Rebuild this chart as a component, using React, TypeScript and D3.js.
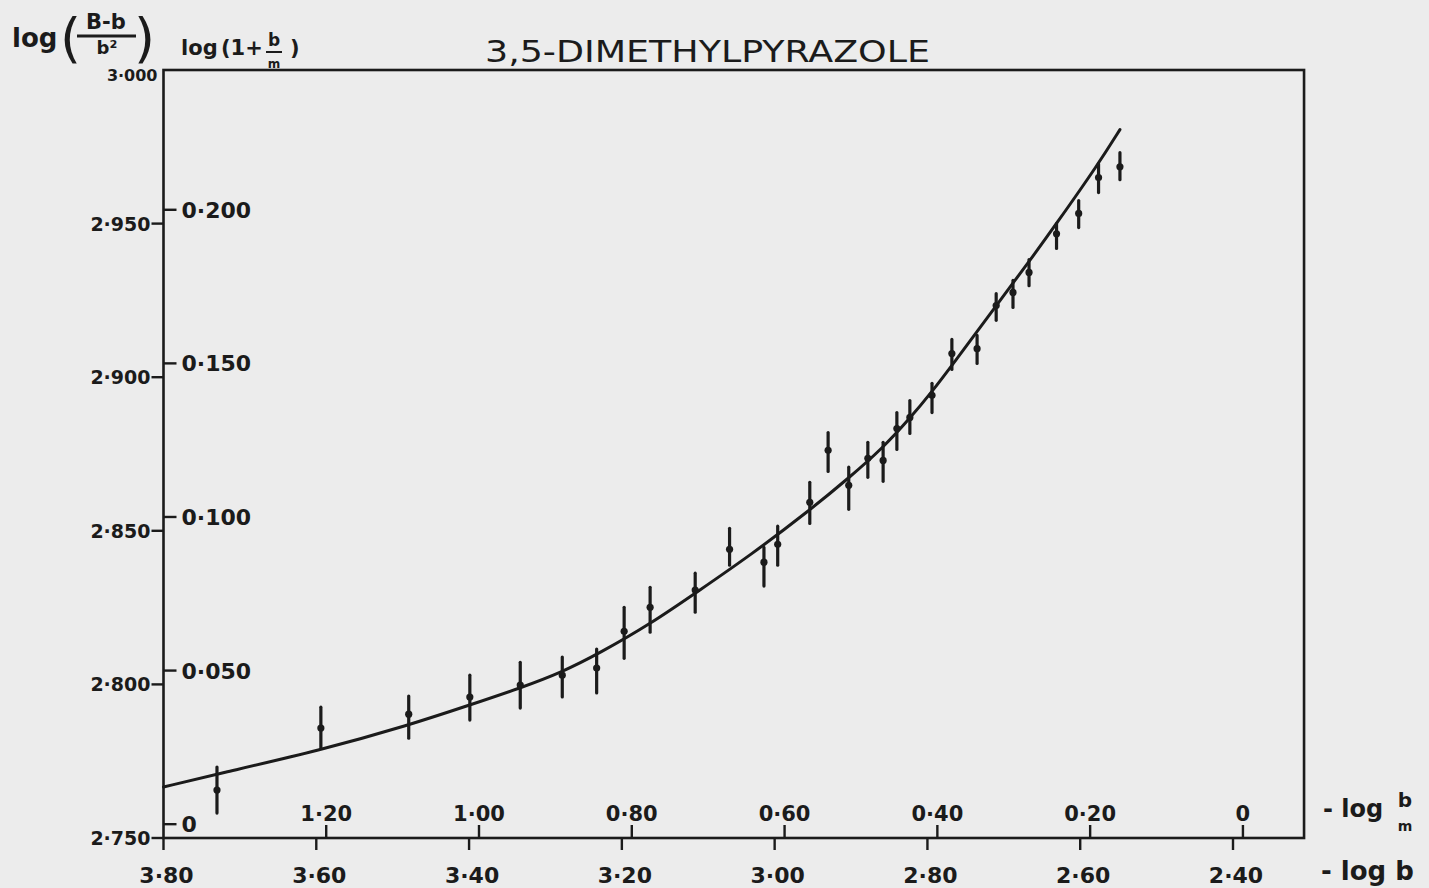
import React from 'react';
import * as d3 from 'd3';

// -log b of each measured point
const negLogB = [
  3.73, 3.594, 3.479, 3.399, 3.333, 3.278, 3.233, 3.197, 3.163, 3.104,
  3.059, 3.014, 2.996, 2.954, 2.93, 2.903, 2.878, 2.858, 2.84, 2.823,
  2.794, 2.768, 2.735, 2.71, 2.688, 2.667, 2.631, 2.602, 2.576, 2.548,
];
// log((B-b)/b²) at each point, with top and bottom of its error bar
const logRatio = [
  2.7656, 2.7858, 2.7903, 2.7959, 2.7998, 2.803, 2.8053, 2.8173, 2.8251, 2.8307,
  2.844, 2.8398, 2.8456, 2.8593, 2.8762, 2.8648, 2.8736, 2.8729, 2.8833, 2.8869,
  2.8941, 2.9077, 2.9093, 2.9233, 2.9276, 2.9341, 2.9467, 2.9533, 2.965, 2.9685,
];
const barHigh = [
  2.7731, 2.7926, 2.7962, 2.803, 2.8072, 2.8089, 2.8115, 2.8251, 2.8316, 2.8362,
  2.8508, 2.8446, 2.8515, 2.8658, 2.882, 2.8707, 2.8788, 2.8788, 2.8885, 2.8924,
  2.898, 2.9123, 2.9136, 2.9272, 2.9315, 2.9383, 2.95, 2.9575, 2.9695, 2.9731,
];
const barLow = [
  2.7581, 2.7793, 2.7825, 2.7884, 2.7923, 2.7959, 2.7972, 2.8085, 2.817, 2.8235,
  2.8388, 2.832, 2.8388, 2.8524, 2.8693, 2.857, 2.8674, 2.8661, 2.8765, 2.8817,
  2.8885, 2.9025, 2.9045, 2.9185, 2.9227, 2.9298, 2.9419, 2.9487, 2.9601, 2.9643,
];

// hand-drawn fitted curve
const curveX = [
  3.8, 3.73, 3.594, 3.479, 3.399, 3.333, 3.278, 3.229, 3.163, 3.098, 3.032,
  2.954, 2.902, 2.859, 2.823, 2.795, 2.768, 2.71, 2.667, 2.631, 2.576, 2.548,
];
const curveY = [
  2.7666, 2.7708, 2.7786, 2.7867, 2.7933, 2.7988, 2.804, 2.8102, 2.8196, 2.8307, 2.842,
  2.8567, 2.8674, 2.8768, 2.8866, 2.895, 2.9038, 2.9233, 2.9376, 2.95, 2.9695, 2.9806,
];

const bottomTicks = [3.8, 3.6, 3.4, 3.2, 3.0, 2.8, 2.6, 2.4];
const bottomLabels = ['3·80', '3·60', '3·40', '3·20', '3·00', '2·80', '2·60', '2·40'];
const topTicks = [1.2, 1.0, 0.8, 0.6, 0.4, 0.2, 0];
const topLabels = ['1·20', '1·00', '0·80', '0·60', '0·40', '0·20', '0'];
const leftTicks = [2.75, 2.8, 2.85, 2.9, 2.95];
const leftLabels = ['2·750', '2·800', '2·850', '2·900', '2·950'];
const innerTicks = [0, 0.05, 0.1, 0.15, 0.2];
const innerLabels = ['0', '0·050', '0·100', '0·150', '0·200'];

// the two secondary scales as they were drawn on the sheet
const TOP_OFFSET = 2.387;
const INNER_OFFSET = 2.7545;
const X_RIGHT = 2.307;

const ink = '#1b1b1b';
const font = '"DejaVu Sans", sans-serif';

export default function App() {
  const x = d3.scaleLinear().domain([3.8, 2.4]).range([163.5, 1233]);
  const y = d3.scaleLinear().domain([2.75, 3.0]).range([838, 70]);

  const line = d3
    .line<[number, number]>()
    .x((d) => x(d[0]))
    .y((d) => y(d[1]))
    .curve(d3.curveBasis);
  const curvePath = line(curveX.map((v, i) => [v, curveY[i]] as [number, number])) || '';

  const left = x(3.8);
  const right = x(X_RIGHT);
  const top = y(3.0);
  const bottom = y(2.75);

  return (
    <svg
      width={1429}
      height={888}
      style={{ position: 'fixed', left: 0, top: 0, background: '#ececec' }}
    >
      <rect x={0} y={0} width={1429} height={888} fill="#ececec" />

      {/* title */}
      <text
        x={485}
        y={62}
        fontFamily={font}
        fontSize={31}
        fill={ink}
        textLength={445}
        lengthAdjust="spacingAndGlyphs"
      >
        3,5-DIMETHYLPYRAZOLE
      </text>

      {/* left axis title: log((B-b)/b²) */}
      <g fontFamily={font} fill={ink} fontWeight="bold">
        <text x={12} y={47} fontSize={26}>log</text>
        <text x={60} y={57} fontSize={54} fontWeight="normal">(</text>
        <text x={106} y={29} fontSize={21} textAnchor="middle">B-b</text>
        <line x1={77} x2={136} y1={36} y2={36} stroke={ink} strokeWidth={3} />
        <text x={107} y={54} fontSize={18} textAnchor="middle">b²</text>
        <text x={134} y={57} fontSize={54} fontWeight="normal">)</text>
      </g>

      {/* inner axis title: log(1 + b/m) */}
      <g fontFamily={font} fill={ink} fontWeight="bold">
        <text x={181} y={55} fontSize={21}>log</text>
        <text x={221} y={55} fontSize={21}>(1+</text>
        <text x={274} y={46} fontSize={17} textAnchor="middle">b</text>
        <line x1={266} x2={282} y1={52} y2={52} stroke={ink} strokeWidth={2} />
        <text x={274} y={68} fontSize={12} textAnchor="middle">m</text>
        <text x={290} y={55} fontSize={21}>)</text>
      </g>

      {/* frame */}
      <rect
        x={left}
        y={top}
        width={right - left}
        height={bottom - top}
        fill="none"
        stroke={ink}
        strokeWidth={2.6}
      />

      {/* outer left ticks */}
      {leftTicks.map((t, i) => (
        <g key={`l${t}`}>
          <line x1={left - 12} x2={left} y1={y(t)} y2={y(t)} stroke={ink} strokeWidth={2.4} />
          <text
            x={left - 13}
            y={y(t) + 7}
            textAnchor="end"
            fontFamily={font}
            fontWeight="bold"
            fontSize={19}
            fill={ink}
          >
            {leftLabels[i]}
          </text>
        </g>
      ))}
      <text
        x={left - 6}
        y={top + 11}
        textAnchor="end"
        fontFamily={font}
        fontWeight="bold"
        fontSize={16}
        fill={ink}
      >
        3·000
      </text>

      {/* inner left ticks */}
      {innerTicks.map((t, i) => (
        <g key={`r${t}`}>
          <line
            x1={left}
            x2={left + 13}
            y1={y(t + INNER_OFFSET)}
            y2={y(t + INNER_OFFSET)}
            stroke={ink}
            strokeWidth={2.4}
          />
          <text
            x={left + 18}
            y={y(t + INNER_OFFSET) + 8}
            fontFamily={font}
            fontWeight="bold"
            fontSize={22}
            fill={ink}
          >
            {innerLabels[i]}
          </text>
        </g>
      ))}

      {/* bottom ticks (-log b) */}
      {bottomTicks.map((t, i) => (
        <g key={`b${t}`}>
          <line x1={x(t)} x2={x(t)} y1={bottom} y2={bottom + 12} stroke={ink} strokeWidth={2.4} />
          <text
            x={x(t) + 3}
            y={883}
            textAnchor="middle"
            fontFamily={font}
            fontWeight="bold"
            fontSize={22}
            fill={ink}
          >
            {bottomLabels[i]}
          </text>
        </g>
      ))}

      {/* inner bottom ticks (-log b/m) */}
      {topTicks.map((t, i) => (
        <g key={`t${t}`}>
          <line
            x1={x(t + TOP_OFFSET)}
            x2={x(t + TOP_OFFSET)}
            y1={bottom}
            y2={bottom - 13}
            stroke={ink}
            strokeWidth={2.4}
          />
          <text
            x={x(t + TOP_OFFSET)}
            y={821}
            textAnchor="middle"
            fontFamily={font}
            fontWeight="bold"
            fontSize={21}
            fill={ink}
          >
            {topLabels[i]}
          </text>
        </g>
      ))}

      {/* right-hand axis names */}
      <g fontFamily={font} fill={ink} fontWeight="bold">
        <text x={1323} y={817} fontSize={24}>- log</text>
        <text x={1405} y={807} fontSize={20} textAnchor="middle">b</text>
        <text x={1405} y={831} fontSize={14} textAnchor="middle">m</text>
        <text x={1321} y={880} fontSize={26}>- log b</text>
      </g>

      {/* fitted curve */}
      <path d={curvePath} fill="none" stroke={ink} strokeWidth={3} strokeLinecap="round" />

      {/* error bars */}
      {negLogB.map((v, i) => (
        <g key={`p${i}`}>
          <line
            x1={x(v)}
            x2={x(v)}
            y1={y(barHigh[i])}
            y2={y(barLow[i])}
            stroke={ink}
            strokeWidth={3.2}
            strokeLinecap="round"
          />
          <circle cx={x(v)} cy={y(logRatio[i])} r={3.6} fill={ink} />
        </g>
      ))}
    </svg>
  );
}
